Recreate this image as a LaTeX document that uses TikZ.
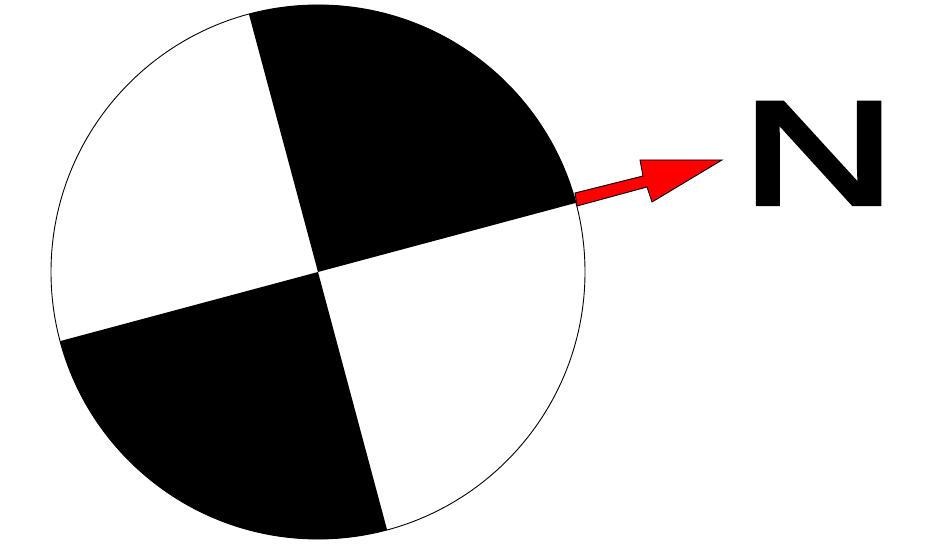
\documentclass[tikz,border=0pt]{standalone}
\usepackage{fontspec}
\setmainfont{Liberation Sans}
\newfontfamily\nfont[FakeBold=3]{Liberation Sans}
\begin{document}
\begin{tikzpicture}[x=1pt,y=1pt,
  quad/.style={fill=black},
  rim/.style={draw=black,line width=0.9pt},
  arrowshape/.style={fill=red,draw=black,line width=0.9pt,line join=miter}]
\useasboundingbox (0,0) rectangle (929,548);
\coordinate (C) at (318,276);
\fill[quad] (C) -- ++(15:267) arc[start angle=15,end angle=105,radius=267] -- cycle;
\fill[quad] (C) -- ++(195:267) arc[start angle=195,end angle=285,radius=267] -- cycle;
\draw[rim] (C) circle[radius=267];
\draw[arrowshape] (575,355) -- (643,372) -- (640,388) -- (722,388) -- (652,346) -- (647,361) -- (577,342) -- cycle;
\node[font=\nfont\fontsize{147}{147}\selectfont, xscale=1.45, inner sep=0pt, anchor=base] (N) at (818.5,344) {N};
\end{tikzpicture}
\end{document}
